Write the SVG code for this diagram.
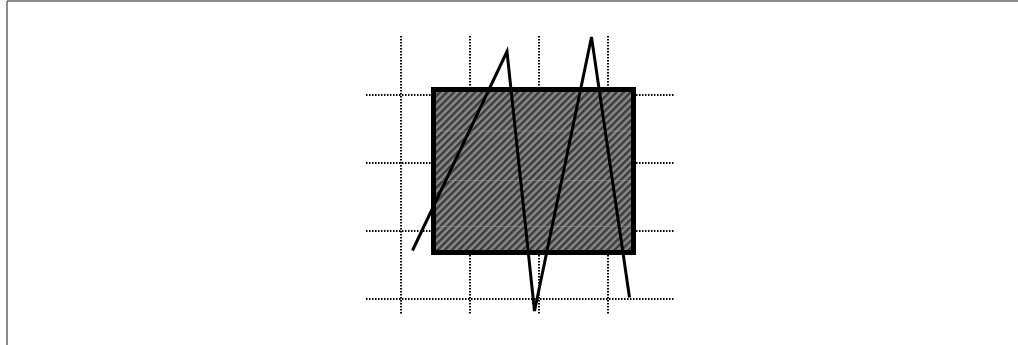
<svg xmlns="http://www.w3.org/2000/svg" width="1018" height="345" viewBox="0 0 1018 345">
<style>
.frame{stroke:#666;stroke-width:1.5;fill:none}
.grid{stroke:#000;stroke-width:2;stroke-dasharray:1.5 1.5;fill:none}
.seam{stroke:#9a9a9a;stroke-width:1;opacity:0.5}
.zig{stroke:#000;stroke-width:3;fill:none;stroke-linejoin:miter}
</style>
<defs>
<pattern id="hatch" patternUnits="userSpaceOnUse" width="5" height="5" patternTransform="rotate(45)">
<rect x="0" y="0" width="5" height="5" fill="#8a8a8a"/>
<rect x="0" y="0" width="2.5" height="5" fill="#3c3c3c"/>
</pattern>
</defs>
<rect width="1018" height="345" fill="#fff"/>
<g id="frame">
<line class="frame" x1="7" y1="1" x2="1018" y2="1"/>
<line class="frame" x1="7" y1="1" x2="7" y2="345"/>
</g>
<g id="grid">
<line class="grid" x1="401" y1="36" x2="401" y2="314"/>
<line class="grid" x1="470" y1="36" x2="470" y2="314"/>
<line class="grid" x1="539" y1="36" x2="539" y2="314"/>
<line class="grid" x1="608" y1="36" x2="608" y2="314"/>
<line class="grid" x1="366" y1="95" x2="674" y2="95"/>
<line class="grid" x1="366" y1="163" x2="674" y2="163"/>
<line class="grid" x1="366" y1="231" x2="674" y2="231"/>
<line class="grid" x1="366" y1="299" x2="674" y2="299"/>
</g>
<g id="box">
<rect x="433.5" y="89.5" width="200" height="163" fill="url(#hatch)" stroke="#000" stroke-width="5"/>
<line class="seam" x1="436" y1="131" x2="631" y2="131"/>
<line class="seam" x1="436" y1="180.5" x2="631" y2="180.5"/>
<line class="seam" x1="436" y1="226.5" x2="631" y2="226.5"/>
</g>
<g id="connectors">
<polyline class="zig" points="412.5,250.5 507,51.5 534.5,311 591.5,37 629.5,297.5"/>
</g>
</svg>
